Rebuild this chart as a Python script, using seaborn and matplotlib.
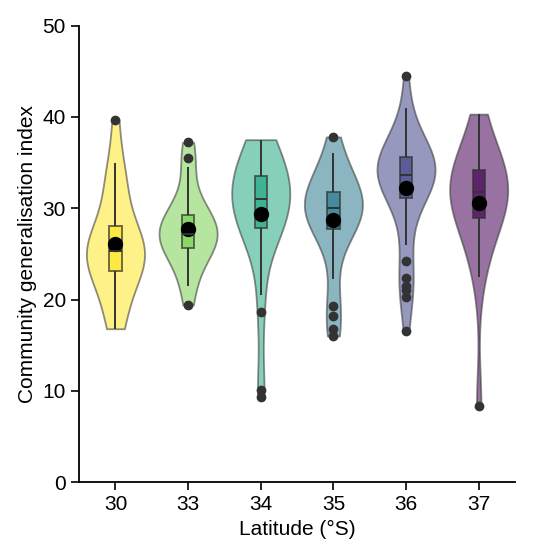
import numpy as np
import pandas as pd
import matplotlib
matplotlib.use("Agg")
import matplotlib.pyplot as plt
import seaborn as sns

latitudes = ["30", "33", "34", "35", "36", "37"]
g30 = [16.8, 17.5, 19, 21, 22.5, 23, 23.5, 24, 24.3, 24.8, 25.2, 25.5, 25.8, 26.5,
       27.0, 27.5, 28.2, 31.5, 32.5, 33, 35, 39.7]
g33 = [19.4, 21.5, 23, 24.5, 25.3, 25.6, 26, 26.5, 26.8, 27, 27.2, 27.5, 28, 28.5,
       29.0, 29.3, 29.8, 31, 34.5, 35.5, 37.2]
g34 = [9.3, 10.1, 18.6, 20.5, 26, 27.5, 27.7, 27.8, 28, 28.5, 29, 29.5, 30, 30.5,
       31, 31.5, 32.5, 33, 33, 34, 35, 36, 37, 37.5, 31.8, 32.2, 33.5, 34.5, 36.5]
g35 = [16, 16.8, 18.2, 19.3, 22.2, 26.5, 27.7, 27.8, 28, 28.5, 29, 29.5, 29.8, 30,
       30.2, 30.5, 30.8, 31, 31.2, 31.5, 32, 32.5, 33, 34, 35, 36, 37.8]
g36 = [16.5, 20.3, 21, 21.5, 22.4, 24.2, 26, 28, 30, 31.5, 31.8, 32, 32.2, 32.5,
       32.8, 33, 33.2, 33.5, 33.8, 34, 34.2, 34.4, 34.5, 34.8, 35, 35.2, 35.5, 35.8,
       36, 36.2, 36.5, 37, 38, 39, 41, 44.5]
g37 = [8.3, 22.5, 25, 27, 28.5, 29, 29.5, 30, 31, 31.5, 32, 32.5, 33, 33.5, 34,
       34.5, 35, 36, 38, 40.3]

groups = [g30, g33, g34, g35, g36, g37]
df = pd.DataFrame({
    "lat": np.repeat(latitudes, [len(g) for g in groups]),
    "index": np.concatenate(groups),
})

sns.set_theme(style="ticks")
plt.rcParams["font.family"] = ["Liberation Sans", "DejaVu Sans"]
fig, ax = plt.subplots(figsize=(5.33, 5.57), dpi=100)

pal = [plt.cm.viridis(v) for v in np.linspace(1, 0, 6)]
sns.violinplot(data=df, x="lat", y="index", hue="lat", palette=pal, cut=0,
               inner=None, linewidth=1.3, linecolor="#333333", legend=False, ax=ax,
               width=0.8, saturation=1)
for c in ax.collections:
    c.set_alpha(0.55)
    c.set_edgecolor("#333333")
sns.boxplot(data=df, x="lat", y="index", hue="lat", palette=pal, width=0.17,
            linewidth=1.4, linecolor="#333333", legend=False, ax=ax, saturation=1,
            showcaps=False, boxprops=dict(alpha=0.7),
            flierprops=dict(marker="o", markerfacecolor="#333333",
                            markeredgecolor="#333333", markersize=6))
sns.pointplot(data=df, x="lat", y="index", estimator="mean", errorbar=None,
              linestyle="none", color="black", markersize=9, ax=ax)

ax.set_ylim(0, 50)
ax.set_yticks(range(0, 51, 10))
ax.set_xlabel("Latitude (°S)", fontsize=15, color="black")
ax.set_ylabel("Community generalisation index", fontsize=15, color="black")
ax.tick_params(labelsize=15, width=1.2, length=6, colors="black")
sns.despine(ax=ax)
for s in ["left", "bottom"]:
    ax.spines[s].set_linewidth(1.3)
    ax.spines[s].set_color("black")
plt.tight_layout()
plt.savefig("out.png", dpi=100)
